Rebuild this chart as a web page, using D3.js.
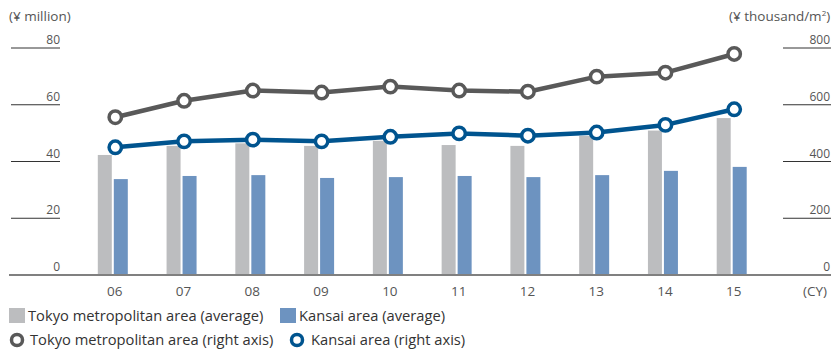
<!DOCTYPE html>
<html>
<head>
<meta charset="utf-8">
<script src="https://cdn.jsdelivr.net/npm/d3@7"></script>
<style>
  body { margin: 0; background: #fff; }
  svg { display: block; font-family: 'Open Sans', sans-serif; }
</style>
</head>
<body>
<div id="app"></div>
<script>
const years = ['06', '07', '08', '09', '10', '11', '12', '13', '14', '15'];
const tokyoAvg = [42.3, 45.5, 46.4, 45.5, 47.3, 45.8, 45.5, 49.0, 50.9, 55.3];
const kansaiAvg = [33.8, 34.9, 35.2, 34.2, 34.5, 34.9, 34.5, 35.2, 36.7, 38.1];
const tokyoUnit = [556, 614, 650, 643, 664, 650, 646, 699, 713, 779];
const kansaiUnit = [450, 471, 477, 471, 487, 499, 491, 502, 529, 584];
const leftTicks = [0, 20, 40, 60, 80];
const rightTicks = [0, 200, 400, 600, 800];

const width = 831;
const height = 351;

const grey = '#bcbdbf';
const blue = '#6d93c0';
const tokyoLine = '#595959';
const kansaiLine = '#00548f';
const textColor = '#555';

const svg = d3.select('#app').append('svg')
  .attr('width', width)
  .attr('height', height);

const x = d3.scalePoint()
  .domain(years)
  .range([112.8, 731.7]);

const yL = d3.scaleLinear().domain([0, 80]).range([275, 48]);
const yR = d3.scaleLinear().domain([0, 800]).range([275, 48]);

// unit labels
svg.append('text')
  .attr('x', 9).attr('y', 21)
  .attr('font-size', 13.5).attr('fill', textColor)
  .text('(¥ million)');

svg.append('text')
  .attr('x', 729).attr('y', 21)
  .attr('font-size', 13.5).attr('fill', textColor)
  .html('(¥ thousand/m<tspan font-size="8" dy="-5">2</tspan><tspan dy="5">)</tspan>');

// left axis ticks
const left = svg.append('g');
left.selectAll('line')
  .data(leftTicks.filter(d => d > 0))
  .enter().append('line')
  .attr('x1', 11).attr('x2', 60)
  .attr('y1', d => yL(d)).attr('y2', d => yL(d))
  .attr('stroke', '#333').attr('stroke-width', 1);
left.selectAll('text')
  .data(leftTicks)
  .enter().append('text')
  .attr('x', 60).attr('y', d => yL(d) - 4)
  .attr('text-anchor', 'end')
  .attr('font-size', 12).attr('fill', textColor)
  .text(d => d);

// right axis ticks
const right = svg.append('g');
right.selectAll('line')
  .data(rightTicks.filter(d => d > 0))
  .enter().append('line')
  .attr('x1', 783).attr('x2', 840)
  .attr('y1', d => yR(d)).attr('y2', d => yR(d))
  .attr('stroke', '#333').attr('stroke-width', 1);
right.selectAll('text')
  .data(rightTicks)
  .enter().append('text')
  .attr('x', 830).attr('y', d => yR(d) - 4)
  .attr('text-anchor', 'end')
  .attr('font-size', 12).attr('fill', textColor)
  .text(d => d);

// bars
svg.append('g').selectAll('rect')
  .data(tokyoAvg)
  .enter().append('rect')
  .attr('x', (d, i) => x(years[i]) - 15)
  .attr('width', 14)
  .attr('y', d => yL(d))
  .attr('height', d => yL(0) - yL(d))
  .attr('fill', grey);

svg.append('g').selectAll('rect')
  .data(kansaiAvg)
  .enter().append('rect')
  .attr('x', (d, i) => x(years[i]) + 1)
  .attr('width', 14)
  .attr('y', d => yL(d))
  .attr('height', d => yL(0) - yL(d))
  .attr('fill', blue);

// baseline
svg.append('line')
  .attr('x1', 9).attr('x2', width)
  .attr('y1', yL(0)).attr('y2', yL(0))
  .attr('stroke', '#808080').attr('stroke-width', 2);

// x labels
svg.append('g').selectAll('text')
  .data(years)
  .enter().append('text')
  .attr('x', d => x(d) + 2)
  .attr('y', 296)
  .attr('text-anchor', 'middle')
  .attr('font-size', 13.5).attr('fill', textColor)
  .text(d => d);

svg.append('text')
  .attr('x', 803).attr('y', 296)
  .attr('font-size', 13.5).attr('fill', textColor)
  .text('(CY)');

// lines
const drawLine = (values, color) => {
  const line = d3.line()
    .x((d, i) => x(years[i]) + 2.5)
    .y(d => yR(d));
  svg.append('path')
    .datum(values)
    .attr('d', line)
    .attr('fill', 'none')
    .attr('stroke', color)
    .attr('stroke-width', 4.5)
    .attr('stroke-linejoin', 'round');
  svg.append('g').selectAll('circle')
    .data(values)
    .enter().append('circle')
    .attr('cx', (d, i) => x(years[i]) + 2.5)
    .attr('cy', d => yR(d))
    .attr('r', 6.2)
    .attr('fill', '#fff')
    .attr('stroke', color)
    .attr('stroke-width', 3.5);
};
drawLine(tokyoUnit, tokyoLine);
drawLine(kansaiUnit, kansaiLine);

// legend
const legend = svg.append('g').attr('font-size', 14.7).attr('fill', '#333');
legend.append('rect').attr('x', 9).attr('y', 308).attr('width', 16).attr('height', 15).attr('fill', grey);
legend.append('text').attr('x', 28).attr('y', 321).text('Tokyo metropolitan area (average)');
legend.append('rect').attr('x', 280).attr('y', 308).attr('width', 16).attr('height', 15).attr('fill', blue);
legend.append('text').attr('x', 299).attr('y', 321).text('Kansai area (average)');

legend.append('circle').attr('cx', 17).attr('cy', 340).attr('r', 5.5)
  .attr('fill', '#fff').attr('stroke', tokyoLine).attr('stroke-width', 3.5);
legend.append('text').attr('x', 30).attr('y', 345).text('Tokyo metropolitan area (right axis)');
legend.append('circle').attr('cx', 297).attr('cy', 340).attr('r', 5.5)
  .attr('fill', '#fff').attr('stroke', kansaiLine).attr('stroke-width', 3.5);
legend.append('text').attr('x', 311).attr('y', 345).text('Kansai area (right axis)');
</script>
</body>
</html>
